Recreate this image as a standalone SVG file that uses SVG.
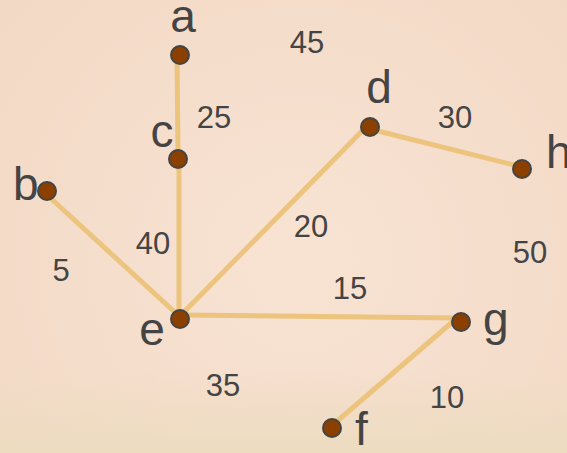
<svg xmlns="http://www.w3.org/2000/svg" width="567" height="453" viewBox="0 0 567 453">
<defs>
<radialGradient id="bgr" cx="300" cy="260" r="420" gradientUnits="userSpaceOnUse">
<stop offset="0" stop-color="#f8e3d3"/>
<stop offset="1" stop-color="#f2d8c4"/>
</radialGradient>
<linearGradient id="bot" x1="0" y1="0" x2="0" y2="1">
<stop offset="0" stop-color="#eddcc2" stop-opacity="0"/>
<stop offset="1" stop-color="#eddcc0" stop-opacity="1"/>
</linearGradient>
<style>
.edge{stroke:#ecc47e;stroke-width:5;fill:none}
.node{fill:#8b4000;stroke:#444;stroke-width:2}
.lbl{font-family:"Liberation Sans",Arial,sans-serif;font-size:46px;fill:#444}
.w{font-family:"Liberation Sans",Arial,sans-serif;font-size:31px;fill:#444;text-anchor:middle}
</style>
</defs>
<rect width="567" height="453" fill="url(#bgr)"/>
<rect y="370" width="567" height="83" fill="url(#bot)"/>
<g id="connectors">
<line class="edge" x1="177" y1="54" x2="178" y2="153"/>
<line class="edge" x1="179" y1="163" x2="179" y2="316"/>
<line class="edge" x1="45" y1="193" x2="179" y2="316"/>
<line class="edge" x1="180" y1="316" x2="368" y2="125"/>
<line class="edge" x1="182" y1="315" x2="458" y2="318"/>
<line class="edge" x1="370" y1="129" x2="518" y2="166"/>
<line class="edge" x1="457" y1="318" x2="335" y2="423"/>
</g>
<g id="node-a"><circle class="node" cx="180" cy="55" r="9"/><text class="lbl" x="183" y="32" text-anchor="middle">a</text></g>
<g id="node-c"><circle class="node" cx="178" cy="159" r="9"/><text class="lbl" x="162" y="147" text-anchor="middle">c</text></g>
<g id="node-b"><circle class="node" cx="47" cy="191" r="9"/><text class="lbl" x="13" y="200">b</text></g>
<g id="node-d"><circle class="node" cx="370" cy="127" r="9"/><text class="lbl" x="379" y="103" text-anchor="middle">d</text></g>
<g id="node-h"><circle class="node" cx="522" cy="169" r="9"/><text class="lbl" x="546" y="168">h</text></g>
<g id="node-e"><circle class="node" cx="180" cy="319" r="9"/><text class="lbl" x="152" y="345" text-anchor="middle">e</text></g>
<g id="node-g"><circle class="node" cx="461" cy="322" r="9"/><text class="lbl" x="483" y="335">g</text></g>
<g id="node-f"><circle class="node" cx="332" cy="428" r="9"/><text class="lbl" x="355" y="445">f</text></g>
<g id="weights">
<text class="w" x="307" y="53">45</text>
<text class="w" x="214" y="128">25</text>
<text class="w" x="455" y="128">30</text>
<text class="w" x="153" y="254">40</text>
<text class="w" x="61" y="281">5</text>
<text class="w" x="311" y="237">20</text>
<text class="w" x="350" y="299">15</text>
<text class="w" x="530" y="263">50</text>
<text class="w" x="223" y="396">35</text>
<text class="w" x="447" y="408">10</text>
</g>
</svg>
